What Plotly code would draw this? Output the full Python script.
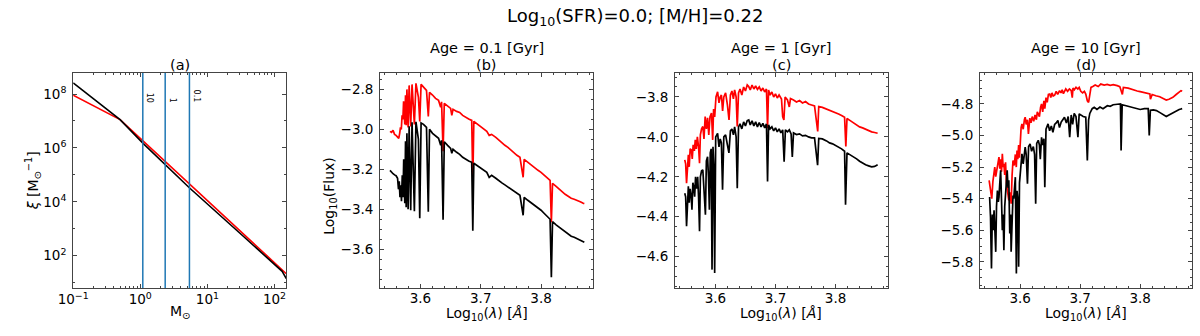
import math
import plotly.graph_objects as go

# ---- panel (a): IMF ----
imf_mass_black = [0.1, 0.5, 1.11, 5.38, 30, 100, 130, 150]
imf_logxi_black = [8.41, 7.05, 6.16, 4.52, 2.85, 1.66, 1.42, 1.15]
imf_mass_red = [0.1, 0.5, 150]
imf_logxi_red = [7.96, 7.05, 1.33]
turnoff_mass = [1.09, 2.35, 5.4]
turnoff_age = ["10", "1", "0.1"]

# ---- panels (b)-(d): spectra, (log10 lambda, log10 flux) ----
b_red = [(3.5494, -3.010), (3.5520, -3.015), (3.5545, -3.005), (3.5570, -3.025), (3.5595, -3.030),
         (3.5620, -3.040), (3.5640, -3.045), (3.5655, -3.020), (3.5668, -2.990), (3.5682, -3.000),
         (3.5695, -2.930), (3.5708, -2.950), (3.5720, -2.860), (3.5740, -2.975), (3.5752, -2.830),
         (3.5763, -2.980), (3.5775, -2.800), (3.5795, -2.990), (3.5812, -2.780), (3.5838, -2.985),
         (3.5860, -2.775), (3.5899, -2.975), (3.5925, -2.770), (3.5966, -2.840), (3.5988, -2.960),
         (3.6010, -2.775), (3.6050, -2.790), (3.6100, -2.805), (3.6130, -2.935), (3.6150, -2.815),
         (3.6200, -2.828), (3.6250, -2.845), (3.6300, -2.855), (3.6335, -2.890), (3.6350, -2.862),
         (3.6375, -3.110), (3.6395, -2.870), (3.6450, -2.885), (3.6500, -2.895), (3.6520, -2.930),
         (3.6540, -2.900), (3.6600, -2.910), (3.6650, -2.915), (3.6700, -2.930), (3.6750, -2.940),
         (3.6800, -2.948), (3.6850, -2.955), (3.6868, -3.262), (3.6885, -2.960), (3.6950, -2.975),
         (3.7000, -2.990), (3.7050, -3.000), (3.7100, -3.010), (3.7140, -3.030), (3.7180, -3.025),
         (3.7250, -3.040), (3.7300, -3.055), (3.7350, -3.065), (3.7400, -3.080), (3.7450, -3.090),
         (3.7500, -3.105), (3.7550, -3.115), (3.7600, -3.130), (3.7650, -3.140), (3.7703, -3.240),
         (3.7720, -3.150), (3.7780, -3.165), (3.7850, -3.180), (3.7900, -3.195), (3.7950, -3.205),
         (3.8000, -3.215), (3.8050, -3.230), (3.8100, -3.245), (3.8150, -3.255), (3.8171, -3.465),
         (3.8190, -3.270), (3.8250, -3.285), (3.8300, -3.300), (3.8350, -3.310), (3.8400, -3.325),
         (3.8450, -3.335), (3.8500, -3.345), (3.8550, -3.350), (3.8600, -3.355), (3.8650, -3.362),
         (3.8700, -3.370), (3.8718, -3.372)]
b_black = [(3.5494, -3.205), (3.5520, -3.215), (3.5545, -3.222), (3.5570, -3.228), (3.5595, -3.232),
           (3.5620, -3.245), (3.5635, -3.300), (3.5648, -3.260), (3.5660, -3.340), (3.5672, -3.280),
           (3.5685, -3.360), (3.5698, -3.230), (3.5710, -3.340), (3.5722, -3.150), (3.5740, -3.370),
           (3.5752, -3.060), (3.5763, -3.390), (3.5775, -3.020), (3.5795, -3.400), (3.5812, -2.985),
           (3.5838, -3.405), (3.5860, -2.965), (3.5899, -3.410), (3.5925, -2.962), (3.5966, -3.050),
           (3.5988, -3.445), (3.6010, -2.968), (3.6050, -2.975), (3.6100, -2.990), (3.6130, -3.412),
           (3.6150, -3.000), (3.6200, -3.020), (3.6250, -3.035), (3.6300, -3.045), (3.6335, -3.080),
           (3.6350, -3.055), (3.6375, -3.453), (3.6395, -3.062), (3.6450, -3.080), (3.6500, -3.095),
           (3.6520, -3.120), (3.6540, -3.100), (3.6600, -3.115), (3.6650, -3.125), (3.6700, -3.140),
           (3.6750, -3.150), (3.6800, -3.158), (3.6850, -3.165), (3.6868, -3.507), (3.6885, -3.170),
           (3.6950, -3.185), (3.7000, -3.195), (3.7050, -3.205), (3.7100, -3.215), (3.7140, -3.240),
           (3.7180, -3.230), (3.7250, -3.245), (3.7300, -3.258), (3.7350, -3.268), (3.7400, -3.278),
           (3.7450, -3.288), (3.7500, -3.298), (3.7550, -3.310), (3.7600, -3.320), (3.7650, -3.330),
           (3.7703, -3.430), (3.7720, -3.340), (3.7780, -3.355), (3.7850, -3.370), (3.7900, -3.385),
           (3.7950, -3.395), (3.8000, -3.405), (3.8050, -3.420), (3.8100, -3.435), (3.8150, -3.450),
           (3.8171, -3.740), (3.8190, -3.462), (3.8250, -3.478), (3.8300, -3.490), (3.8350, -3.500),
           (3.8400, -3.515), (3.8450, -3.525), (3.8500, -3.535), (3.8550, -3.540), (3.8600, -3.548),
           (3.8650, -3.555), (3.8700, -3.562), (3.8718, -3.565)]

c_red = [(3.5490, -4.115), (3.5505, -4.135), (3.5520, -4.232), (3.5535, -4.120), (3.5550, -4.090),
         (3.5565, -4.150), (3.5580, -4.060), (3.5600, -4.065), (3.5615, -4.110), (3.5630, -4.040),
         (3.5650, -4.070), (3.5665, -4.015), (3.5682, -4.060), (3.5700, -4.000), (3.5720, -4.050),
         (3.5736, -4.132), (3.5750, -3.990), (3.5770, -3.960), (3.5791, -3.948), (3.5810, -4.010),
         (3.5830, -3.898), (3.5850, -3.960), (3.5870, -3.905), (3.5890, -3.990), (3.5910, -3.900),
         (3.5935, -3.880), (3.5955, -4.015), (3.5970, -3.860), (3.5988, -3.900), (3.6010, -3.800),
         (3.6037, -3.774), (3.6060, -3.830), (3.6080, -3.800), (3.6100, -3.790), (3.6120, -3.870),
         (3.6140, -3.800), (3.6170, -3.780), (3.6200, -3.840), (3.6227, -3.915), (3.6250, -3.790),
         (3.6275, -3.770), (3.6300, -3.810), (3.6320, -3.765), (3.6345, -3.800), (3.6364, -3.948),
         (3.6385, -3.780), (3.6410, -3.760), (3.6440, -3.790), (3.6470, -3.750), (3.6500, -3.770),
         (3.6530, -3.740), (3.6555, -3.748), (3.6580, -3.765), (3.6610, -3.740), (3.6640, -3.760),
         (3.6670, -3.745), (3.6700, -3.762), (3.6730, -3.750), (3.6760, -3.770), (3.6790, -3.755),
         (3.6820, -3.775), (3.6850, -3.760), (3.6868, -3.957), (3.6885, -3.765), (3.6910, -3.790),
         (3.6940, -3.775), (3.6970, -3.800), (3.7000, -3.785), (3.7030, -3.805), (3.7060, -3.790),
         (3.7100, -3.810), (3.7120, -3.900), (3.7140, -3.915), (3.7160, -3.800), (3.7200, -3.815),
         (3.7230, -3.850), (3.7250, -3.808), (3.7300, -3.815), (3.7350, -3.825), (3.7400, -3.818),
         (3.7450, -3.830), (3.7500, -3.823), (3.7550, -3.835), (3.7600, -3.840), (3.7650, -3.845),
         (3.7703, -3.973), (3.7720, -3.848), (3.7780, -3.852), (3.7850, -3.860), (3.7900, -3.868),
         (3.7950, -3.872), (3.8000, -3.878), (3.8050, -3.885), (3.8100, -3.893), (3.8150, -3.902),
         (3.8171, -4.048), (3.8190, -3.908), (3.8250, -3.920), (3.8300, -3.930), (3.8350, -3.940),
         (3.8400, -3.950), (3.8450, -3.955), (3.8500, -3.962), (3.8550, -3.968), (3.8600, -3.975),
         (3.8650, -3.978), (3.8700, -3.982)]
c_black = [(3.5490, -4.282), (3.5505, -4.300), (3.5520, -4.448), (3.5535, -4.280), (3.5550, -4.248),
           (3.5565, -4.330), (3.5580, -4.260), (3.5598, -4.300), (3.5610, -4.365), (3.5625, -4.230),
           (3.5640, -4.250), (3.5655, -4.300), (3.5670, -4.200), (3.5690, -4.260), (3.5705, -4.200),
           (3.5720, -4.300), (3.5736, -4.473), (3.5750, -4.200), (3.5770, -4.170), (3.5791, -4.165),
           (3.5810, -4.250), (3.5834, -4.390), (3.5850, -4.120), (3.5870, -4.100), (3.5885, -4.200),
           (3.5900, -4.365), (3.5915, -4.080), (3.5930, -4.060), (3.5944, -4.665), (3.5960, -4.050),
           (3.5975, -4.150), (3.5988, -4.682), (3.6005, -4.000), (3.6037, -3.982), (3.6060, -4.050),
           (3.6080, -4.010), (3.6100, -4.030), (3.6119, -4.265), (3.6140, -4.000), (3.6170, -3.990),
           (3.6200, -4.040), (3.6225, -4.080), (3.6250, -3.970), (3.6275, -3.960), (3.6300, -3.990),
           (3.6320, -3.950), (3.6345, -4.000), (3.6364, -4.257), (3.6385, -3.950), (3.6410, -3.935),
           (3.6440, -3.960), (3.6470, -3.925), (3.6500, -3.945), (3.6530, -3.918), (3.6555, -3.915),
           (3.6580, -3.940), (3.6610, -3.920), (3.6640, -3.945), (3.6670, -3.925), (3.6700, -3.950),
           (3.6730, -3.928), (3.6760, -3.950), (3.6790, -3.932), (3.6820, -3.955), (3.6850, -3.935),
           (3.6868, -4.223), (3.6885, -3.940), (3.6910, -3.960), (3.6940, -3.950), (3.6970, -3.970),
           (3.7000, -3.955), (3.7030, -3.975), (3.7060, -3.960), (3.7090, -3.980), (3.7120, -3.965),
           (3.7144, -4.125), (3.7165, -3.965), (3.7200, -3.975), (3.7230, -3.965), (3.7260, -3.985),
           (3.7280, -4.100), (3.7300, -3.980), (3.7350, -3.988), (3.7400, -3.985), (3.7450, -3.995),
           (3.7500, -3.992), (3.7550, -4.000), (3.7600, -4.005), (3.7650, -4.005), (3.7701, -4.142),
           (3.7720, -4.008), (3.7780, -4.010), (3.7850, -4.020), (3.7900, -4.030), (3.7950, -4.035),
           (3.8000, -4.042), (3.8050, -4.050), (3.8100, -4.060), (3.8150, -4.072), (3.8166, -4.340),
           (3.8190, -4.080), (3.8250, -4.090), (3.8300, -4.098), (3.8350, -4.110), (3.8400, -4.122),
           (3.8450, -4.132), (3.8500, -4.140), (3.8550, -4.145), (3.8600, -4.150), (3.8650, -4.148),
           (3.8700, -4.140)]

d_red = [(3.5482, -5.284), (3.5500, -5.330), (3.5526, -5.400), (3.5545, -5.290), (3.5560, -5.230),
         (3.5576, -5.200), (3.5592, -5.260), (3.5608, -5.220), (3.5625, -5.180), (3.5646, -5.137),
         (3.5660, -5.210), (3.5674, -5.150), (3.5688, -5.230), (3.5702, -5.116), (3.5715, -5.200),
         (3.5728, -5.180), (3.5742, -5.250), (3.5756, -5.170), (3.5770, -5.300), (3.5783, -5.330),
         (3.5797, -5.390), (3.5810, -5.411), (3.5830, -5.360), (3.5849, -5.432), (3.5865, -5.250),
         (3.5880, -5.158), (3.5900, -5.190), (3.5919, -5.120), (3.5935, -5.200), (3.5947, -5.095),
         (3.5960, -5.150), (3.5974, -5.060), (3.5988, -5.140), (3.6001, -5.011), (3.6015, -4.950),
         (3.6029, -4.926), (3.6050, -4.960), (3.6070, -4.900), (3.6083, -4.884), (3.6100, -4.930),
         (3.6120, -4.900), (3.6137, -4.990), (3.6160, -4.890), (3.6180, -4.920), (3.6200, -4.880),
         (3.6225, -4.910), (3.6247, -4.870), (3.6270, -4.900), (3.6285, -4.850), (3.6301, -4.863),
         (3.6320, -4.880), (3.6340, -4.820), (3.6356, -4.800), (3.6375, -4.850), (3.6395, -4.780),
         (3.6410, -4.830), (3.6430, -4.760), (3.6450, -4.790), (3.6470, -4.740), (3.6492, -4.737),
         (3.6510, -4.760), (3.6530, -4.730), (3.6550, -4.750), (3.6574, -4.745), (3.6600, -4.720),
         (3.6625, -4.740), (3.6656, -4.716), (3.6680, -4.730), (3.6700, -4.710), (3.6720, -4.735),
         (3.6738, -4.725), (3.6760, -4.705), (3.6790, -4.720), (3.6820, -4.705), (3.6850, -4.715),
         (3.6868, -4.760), (3.6880, -4.700), (3.6902, -4.710), (3.6930, -4.695), (3.6960, -4.705),
         (3.6983, -4.695), (3.7010, -4.720), (3.7040, -4.730), (3.7070, -4.720), (3.7093, -4.737),
         (3.7119, -4.780), (3.7140, -4.790), (3.7160, -4.750), (3.7180, -4.695), (3.7210, -4.690),
         (3.7250, -4.680), (3.7300, -4.690), (3.7343, -4.674), (3.7400, -4.680), (3.7450, -4.676),
         (3.7500, -4.682), (3.7550, -4.678), (3.7617, -4.684), (3.7660, -4.690), (3.7703, -4.740),
         (3.7720, -4.695), (3.7800, -4.700), (3.7889, -4.712), (3.7950, -4.718), (3.8000, -4.722),
         (3.8080, -4.730), (3.8162, -4.737), (3.8171, -4.770), (3.8200, -4.740), (3.8260, -4.748),
         (3.8326, -4.754), (3.8400, -4.768), (3.8435, -4.775), (3.8480, -4.770), (3.8545, -4.758),
         (3.8600, -4.740), (3.8650, -4.725), (3.8680, -4.716), (3.8700, -4.720)]
d_black = [(3.5490, -5.390), (3.5505, -5.516), (3.5521, -5.842), (3.5535, -5.500), (3.5550, -5.600),
           (3.5564, -5.474), (3.5580, -5.620), (3.5592, -5.737), (3.5605, -5.450), (3.5620, -5.348),
           (3.5635, -5.420), (3.5646, -5.390), (3.5660, -5.300), (3.5674, -5.221), (3.5688, -5.400),
           (3.5702, -5.600), (3.5715, -5.500), (3.5728, -5.727), (3.5742, -5.450), (3.5756, -5.348),
           (3.5770, -5.300), (3.5783, -5.221), (3.5797, -5.330), (3.5810, -5.284), (3.5826, -5.621),
           (3.5840, -5.500), (3.5849, -5.737), (3.5865, -5.450), (3.5880, -5.380), (3.5892, -5.400),
           (3.5905, -5.300), (3.5919, -5.264), (3.5936, -5.874), (3.5947, -5.350), (3.5957, -5.390),
           (3.5966, -5.600), (3.5974, -5.832), (3.5988, -5.300), (3.6001, -5.221), (3.6015, -5.150),
           (3.6029, -5.116), (3.6050, -5.180), (3.6070, -5.090), (3.6083, -5.074), (3.6100, -5.120),
           (3.6121, -5.305), (3.6140, -5.070), (3.6165, -5.053), (3.6190, -5.100), (3.6219, -5.070),
           (3.6240, -5.120), (3.6258, -5.432), (3.6275, -5.050), (3.6301, -5.030), (3.6320, -5.060),
           (3.6335, -5.150), (3.6356, -5.011), (3.6375, -5.060), (3.6395, -5.020), (3.6410, -5.327),
           (3.6430, -4.960), (3.6464, -4.926), (3.6490, -4.970), (3.6519, -4.940), (3.6545, -4.980),
           (3.6574, -4.930), (3.6600, -4.920), (3.6628, -4.905), (3.6655, -4.950), (3.6683, -4.915),
           (3.6710, -4.900), (3.6738, -4.884), (3.6770, -4.920), (3.6800, -4.880), (3.6825, -5.011),
           (3.6850, -4.870), (3.6874, -4.930), (3.6900, -4.860), (3.6930, -4.880), (3.6962, -5.011),
           (3.6983, -4.863), (3.7010, -4.870), (3.7050, -4.880), (3.7093, -4.884), (3.7119, -5.158),
           (3.7140, -4.900), (3.7160, -4.860), (3.7200, -4.830), (3.7234, -4.821), (3.7280, -4.835),
           (3.7330, -4.820), (3.7380, -4.830), (3.7453, -4.811), (3.7500, -4.815), (3.7550, -4.805),
           (3.7620, -4.802), (3.7671, -4.800), (3.7682, -5.095), (3.7700, -4.805), (3.7750, -4.810),
           (3.7800, -4.815), (3.7889, -4.821), (3.7950, -4.830), (3.8000, -4.835), (3.8070, -4.830),
           (3.8134, -4.830), (3.8151, -5.000), (3.8170, -4.840), (3.8220, -4.838), (3.8271, -4.842),
           (3.8330, -4.855), (3.8400, -4.870), (3.8435, -4.880), (3.8480, -4.870), (3.8545, -4.855),
           (3.8600, -4.845), (3.8650, -4.835), (3.8680, -4.832), (3.8700, -4.830)]

panel_ages = ["0.1", "1", "10"]
panel_letters = ["(a)", "(b)", "(c)", "(d)"]
spectra = [(b_red, b_black), (c_red, c_black), (d_red, d_black)]
flux_ranges = [[-3.794, -2.718], [-4.757, -3.68], [-5.966, -4.604]]
flux_ticks0 = [-3.6, -4.6, -5.8]

FONT = "DejaVu Sans"
FRAME = "#444444"
x_domains = [[0.0483, 0.2283], [0.3075, 0.4875], [0.5567, 0.7361], [0.8142, 0.9933]]
y_domain = [0.1429, 0.7827]

fig = go.Figure()

# IMF panel
fig.add_trace(go.Scatter(x=imf_mass_red, y=[10 ** v for v in imf_logxi_red], mode="lines",
                         line=dict(color="red", width=1.6), xaxis="x", yaxis="y"))
fig.add_trace(go.Scatter(x=imf_mass_black, y=[10 ** v for v in imf_logxi_black], mode="lines",
                         line=dict(color="black", width=1.6), xaxis="x", yaxis="y"))

# spectra panels
for i, (red, black) in enumerate(spectra):
    ax = str(i + 2)
    for ser, col in ((red, "red"), (black, "black")):
        fig.add_trace(go.Scatter(x=[p[0] for p in ser], y=[p[1] for p in ser], mode="lines",
                                 line=dict(color=col, width=1.7), xaxis="x" + ax, yaxis="y" + ax))

axis_common = dict(showline=True, mirror="ticks", linecolor=FRAME, linewidth=1, ticks="inside",
                   ticklen=4, tickwidth=1, tickcolor=FRAME, showgrid=False, zeroline=False,
                   tickfont=dict(family=FONT, size=13.5, color="black"))
minor_common = dict(ticks="inside", ticklen=2, tickwidth=1, tickcolor=FRAME, showgrid=False)

layout = dict(
    width=1200, height=336, margin=dict(l=0, r=0, t=0, b=0),
    paper_bgcolor="white", plot_bgcolor="white", showlegend=False,
    font=dict(family=FONT, size=13, color="black"),
)

layout["xaxis"] = dict(axis_common, type="log", domain=x_domains[0], anchor="y", range=[-1, 2.176],
                       tickvals=[0.1, 1, 10, 100],
                       ticktext=["10<sup>−1</sup>", "10<sup>0</sup>", "10<sup>1</sup>", "10<sup>2</sup>"],
                       ticklabelstandoff=-1,
                       minor=dict(minor_common, dtick="D1"))
layout["yaxis"] = dict(axis_common, type="log", domain=y_domain, anchor="x", range=[0.80, 8.78],
                       tickvals=[1e2, 1e4, 1e6, 1e8],
                       ticktext=["10<sup>2</sup>", "10<sup>4</sup>", "10<sup>6</sup>", "10<sup>8</sup>"],
                       ticklabelstandoff=3,
                       minor=dict(minor_common, tickvals=[1e1, 1e3, 1e5, 1e7]))

for i in range(3):
    n = str(i + 2)
    layout["xaxis" + n] = dict(axis_common, domain=x_domains[i + 1], anchor="y" + n,
                               range=[3.533, 3.8865], tick0=3.6, dtick=0.1, tickformat=".1f",
                               ticklabelstandoff=-2,
                               minor=dict(minor_common, tick0=3.5, dtick=0.02))
    layout["yaxis" + n] = dict(axis_common, domain=y_domain, anchor="x" + n,
                               range=flux_ranges[i], tick0=flux_ticks0[i], dtick=0.2,
                               tickformat=".1f", ticklabelstandoff=3,
                               minor=dict(minor_common, tick0=flux_ticks0[i], dtick=0.05))

fig.update_layout(**layout)

# turn-off mass lines in panel (a)
for m, age in zip(turnoff_mass, turnoff_age):
    fig.add_shape(type="line", xref="x", yref="y domain", x0=m, x1=m, y0=0, y1=1,
                  line=dict(color="#1f77b4", width=1.5))
    fig.add_annotation(x=math.log10(m), xref="x", y=1 - 105 / 336, yref="paper",
                       text=age, textangle=90, showarrow=False, xanchor="left", yanchor="bottom",
                       xshift=1, font=dict(family=FONT, size=8, color="black"))


def ann(text, x, y, size=14, angle=0):
    fig.add_annotation(text=text, x=x, y=y, xref="paper", yref="paper", showarrow=False,
                       xanchor="center", yanchor="middle", textangle=angle,
                       font=dict(family=FONT, size=size, color="black"))


def py(p):
    return 1 - p / 336


ann("Log<sub>10</sub>(SFR)=0.0; [M/H]=0.22", 627 / 1200, py(17), size=18)
for i, dom in enumerate(x_domains):
    cx = (dom[0] + dom[1]) / 2
    ann(panel_letters[i], cx, py(65), size=14.5)
    if i > 0:
        ann("Age = %s [Gyr]" % panel_ages[i - 1], cx, py(48), size=14.5)
        ann("Log<sub>10</sub>(<i>λ</i>) [<i>Å</i>]", cx, py(314), size=14)
    else:
        ann("M<sub>⊙</sub>", cx, py(312), size=14)

ann("<i>ξ</i> [M<sub>⊙</sub><sup>−1</sup>]", 17.5 / 1200, py(181), size=14, angle=-90)
ann("Log<sub>10</sub>(Flux)", 318 / 1200, py(196), size=14, angle=-90)

# the page body has a default 8px margin; remove it so the figure fills the window
fig.write_html("out.html", config={"displayModeBar": False},
               post_script="document.body.style.margin='0px';")
